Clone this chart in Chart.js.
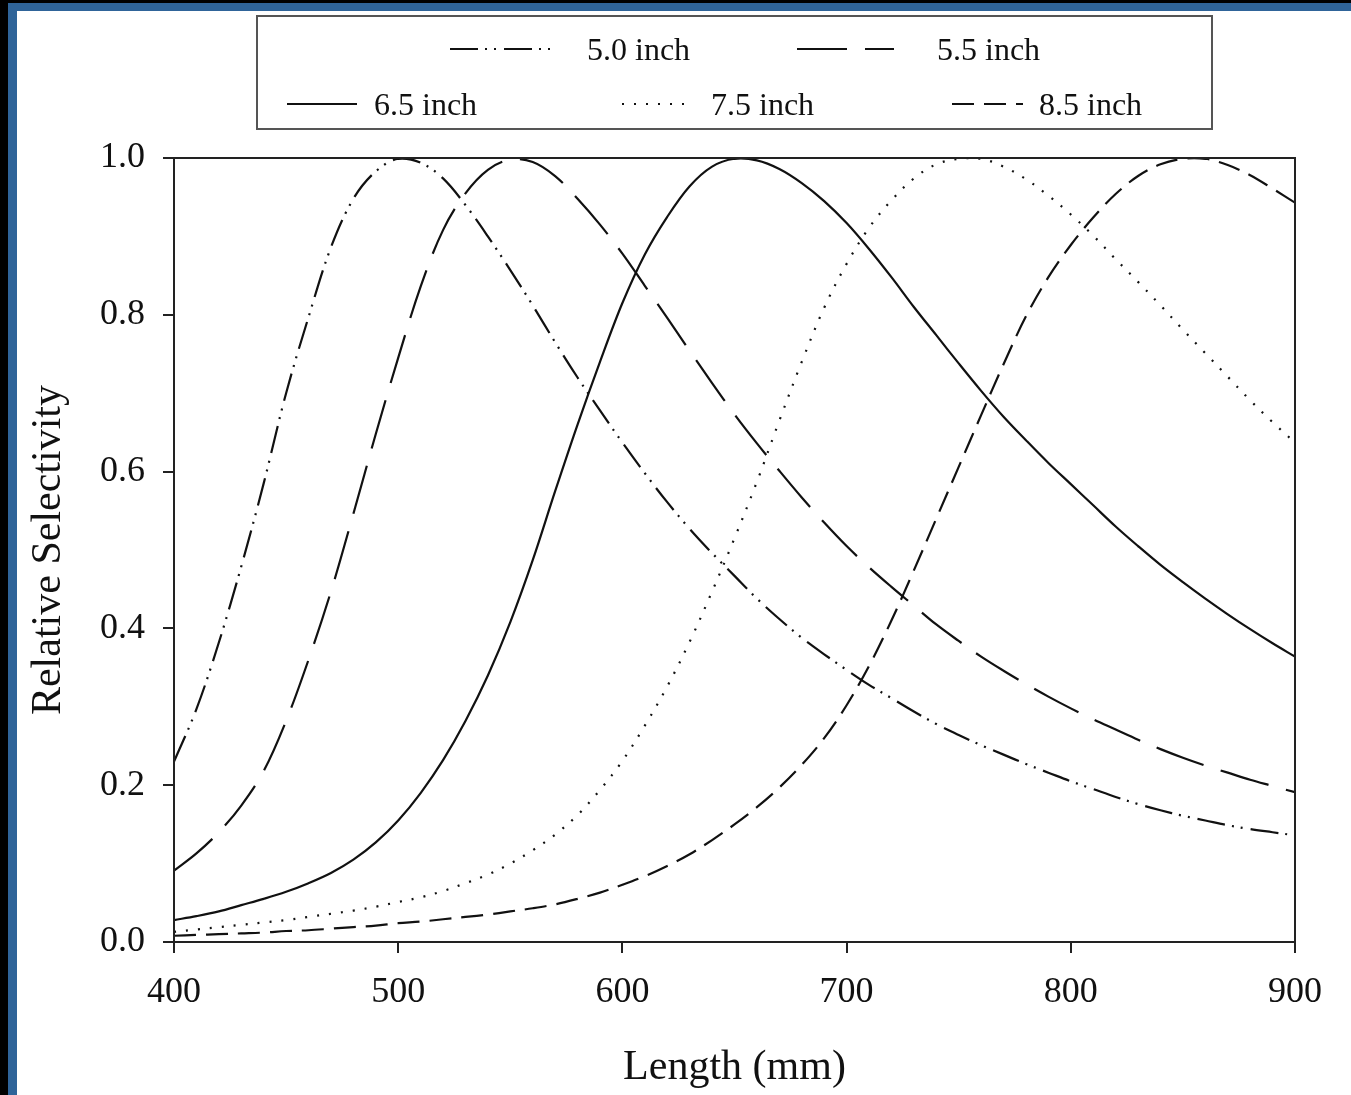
<!DOCTYPE html>
<html>
<head>
<meta charset="utf-8">
<script src="https://cdn.jsdelivr.net/npm/chart.js@4.4.1/dist/chart.umd.min.js"></script>
<style>
  html, body { margin: 0; padding: 0; background: #000; width: 1351px; height: 1095px; overflow: hidden;
    font-family: "Liberation Serif", "Times New Roman", serif; }
  #frame { position: absolute; left: 8px; top: 3px; right: 0; bottom: 0; background: #2f6499; }
  #panel { position: absolute; left: 17px; top: 11px; right: 0; bottom: 0; background: #fff; }
  #chart { position: absolute; left: 0; top: 0; }
  #legend { position: absolute; left: 256px; top: 15px; width: 957px; height: 115px;
    box-sizing: border-box; border: 2px solid #555; }
  .lg-line { position: absolute; height: 4px; }
  .lg-text { position: absolute; font-size: 32px; line-height: 32px; color: #111; white-space: nowrap; }
</style>
</head>
<body>
<div id="frame"></div>
<div id="panel"></div>
<canvas id="chart" width="1351" height="1095"></canvas>
<div id="legend"></div>
<script>
/* ==== DATA ==== */
const lengths = [400, 410, 420, 430, 440, 450, 460, 470, 480, 490,
                 500, 510, 520, 530, 540, 550, 560, 570, 580, 590,
                 600, 610, 620, 630, 640, 650, 660, 670, 680, 690,
                 700, 710, 720, 730, 740, 750, 760, 770, 780, 790,
                 800, 810, 820, 830, 840, 850, 860, 870, 880, 890, 900];

const sel50 = [0.230, 0.297, 0.382, 0.479, 0.585, 0.700, 0.797, 0.886, 0.948, 0.983,
               0.999, 0.994, 0.974, 0.940, 0.900, 0.857, 0.812, 0.765, 0.720, 0.678,
               0.637, 0.598, 0.561, 0.527, 0.496, 0.467, 0.438, 0.412, 0.388, 0.367,
               0.347, 0.328, 0.311, 0.294, 0.278, 0.264, 0.251, 0.239, 0.227, 0.216,
               0.205, 0.195, 0.185, 0.176, 0.168, 0.161, 0.155, 0.149, 0.144, 0.140, 0.136];

const sel55 = [0.091, 0.113, 0.140, 0.174, 0.218, 0.282, 0.360, 0.447, 0.546, 0.648,
               0.745, 0.836, 0.908, 0.955, 0.985, 0.998, 0.995, 0.977, 0.948, 0.915,
               0.878, 0.837, 0.796, 0.754, 0.713, 0.673, 0.636, 0.601, 0.567, 0.535,
               0.505, 0.478, 0.453, 0.429, 0.405, 0.384, 0.364, 0.346, 0.329, 0.313,
               0.298, 0.284, 0.271, 0.258, 0.246, 0.235, 0.225, 0.216, 0.207, 0.199, 0.191];

const sel65 = [0.028, 0.033, 0.039, 0.047, 0.055, 0.064, 0.075, 0.088, 0.105, 0.127,
               0.155, 0.190, 0.232, 0.282, 0.340, 0.408, 0.487, 0.575, 0.660, 0.740,
               0.815, 0.877, 0.925, 0.964, 0.989, 0.999, 0.997, 0.986, 0.968, 0.945,
               0.917, 0.884, 0.848, 0.810, 0.774, 0.738, 0.703, 0.670, 0.640, 0.611,
               0.584, 0.557, 0.530, 0.505, 0.481, 0.459, 0.438, 0.418, 0.399, 0.381, 0.364];

const sel75 = [0.013, 0.016, 0.019, 0.022, 0.025, 0.028, 0.032, 0.036, 0.040, 0.045,
               0.051, 0.057, 0.065, 0.075, 0.086, 0.100, 0.117, 0.137, 0.162, 0.194,
               0.231, 0.276, 0.326, 0.383, 0.447, 0.515, 0.587, 0.665, 0.740, 0.809,
               0.865, 0.911, 0.946, 0.974, 0.992, 0.999, 0.999, 0.989, 0.973, 0.952,
               0.928, 0.901, 0.871, 0.842, 0.812, 0.781, 0.751, 0.721, 0.691, 0.663, 0.637];

const sel85 = [0.008, 0.009, 0.010, 0.011, 0.012, 0.014, 0.015, 0.017, 0.019, 0.021,
               0.024, 0.026, 0.029, 0.032, 0.035, 0.039, 0.043, 0.048, 0.055, 0.063,
               0.073, 0.084, 0.097, 0.112, 0.130, 0.150, 0.172, 0.197, 0.226, 0.260,
               0.302, 0.352, 0.410, 0.474, 0.540, 0.606, 0.672, 0.737, 0.798, 0.848,
               0.889, 0.924, 0.954, 0.977, 0.992, 0.999, 0.999, 0.991, 0.978, 0.961, 0.943];

const seriesLabels = ["5.0 inch", "5.5 inch", "6.5 inch", "7.5 inch", "8.5 inch"];
const seriesValues = [sel50, sel55, sel65, sel75, sel85];
const seriesDashes = [[28, 7, 2, 7, 2, 8], [50, 18], [], [2, 10], [22, 10]];

const xTicks = [400, 500, 600, 700, 800, 900];
const yTicks = [0.0, 0.2, 0.4, 0.6, 0.8, 1.0];

/* ==== LAYOUT (page pixels) ==== */
const PLOT = { left: 174, right: 1295, top: 158, bottom: 942 };
const INK = "#111";
const AXIS = "#222";
const FONT = "'Liberation Serif', 'Times New Roman', serif";

// legend slots: sample start/width, text start, row centre
const legendSlots = [
  { sx: 448, sw: 105, tx: 585, cy: 47 },
  { sx: 795, sw: 97,  tx: 935, cy: 47 },
  { sx: 285, sw: 70,  tx: 372, cy: 102 },
  { sx: 620, sw: 68,  tx: 709, cy: 102 },
  { sx: 950, sw: 71,  tx: 1037, cy: 102 }
];

/* ==== LEGEND (html) ==== */
function buildLegend() {
  const box = document.getElementById("legend");
  const ox = 256, oy = 15;
  seriesLabels.forEach((name, i) => {
    const s = legendSlots[i];
    const dash = seriesDashes[i].length ? seriesDashes[i].join(" ") : "none";
    const svg = document.createElementNS("http://www.w3.org/2000/svg", "svg");
    svg.setAttribute("class", "lg-line");
    svg.setAttribute("width", s.sw);
    svg.setAttribute("height", 4);
    svg.style.left = (s.sx - ox) + "px";
    svg.style.top = (s.cy - oy - 2) + "px";
    svg.innerHTML = `<line x1="0" y1="2" x2="${s.sw}" y2="2" stroke="${INK}" stroke-width="2" stroke-dasharray="${dash}"/>`;
    box.appendChild(svg);
    const t = document.createElement("span");
    t.className = "lg-text";
    t.textContent = name;
    t.style.left = (s.tx - ox) + "px";
    t.style.top = (s.cy - oy - 16) + "px";
    box.appendChild(t);
  });
}

/* ==== CHART ==== */
const plotBox = {
  id: "plotBox",
  afterDraw(chart) {
    const { ctx, chartArea: a } = chart;
    ctx.save();
    ctx.strokeStyle = AXIS; ctx.lineWidth = 2;
    ctx.strokeRect(a.left, a.top, a.right - a.left, a.bottom - a.top);
    ctx.restore();
  }
};

function makeDatasets() {
  return seriesValues.map((vals, i) => ({
    label: seriesLabels[i],
    data: lengths.map((L, j) => ({ x: L, y: vals[j] })),
    borderColor: INK,
    borderWidth: 2.2,
    borderDash: seriesDashes[i],
    borderCapStyle: "butt",
    pointRadius: 0,
    fill: false,
    tension: 0.35
  }));
}

buildLegend();

new Chart(document.getElementById("chart").getContext("2d"), {
  type: "line",
  data: { datasets: makeDatasets() },
  plugins: [plotBox],
  options: {
    responsive: false,
    animation: false,
    devicePixelRatio: 1,
    layout: { padding: { left: 22, top: PLOT.top, right: 1351 - PLOT.right, bottom: 0 } },
    plugins: { legend: { display: false }, tooltip: { enabled: false } },
    scales: {
      x: {
        type: "linear", min: 400, max: 900,
        afterBuildTicks: s => { s.ticks = xTicks.map(v => ({ value: v })); },
        afterFit: s => { s.height = 1095 - PLOT.bottom; },
        ticks: { color: INK, padding: 18, font: { family: FONT, size: 36 } },
        grid: { drawOnChartArea: false, drawTicks: true, tickLength: 11, color: AXIS, tickColor: AXIS, lineWidth: 2 },
        border: { display: true, color: AXIS, width: 2 },
        title: { display: true, text: "Length (mm)", color: INK,
                 font: { family: FONT, size: 42, lineHeight: 1.2 }, padding: { top: 0, bottom: 2 } }
      },
      y: {
        type: "linear", min: 0, max: 1,
        afterBuildTicks: s => { s.ticks = yTicks.map(v => ({ value: v })); },
        afterFit: s => { s.width = PLOT.left - 22; },
        ticks: { color: INK, padding: 18, font: { family: FONT, size: 36 }, callback: v => v.toFixed(1) },
        grid: { drawOnChartArea: false, drawTicks: true, tickLength: 11, color: AXIS, tickColor: AXIS, lineWidth: 2 },
        border: { display: true, color: AXIS, width: 2 },
        title: { display: true, text: "Relative Selectivity", color: INK,
                 font: { family: FONT, size: 42, lineHeight: 1.2 }, padding: { top: 2, bottom: 0 } }
      }
    }
  }
});
</script>
</body>
</html>
